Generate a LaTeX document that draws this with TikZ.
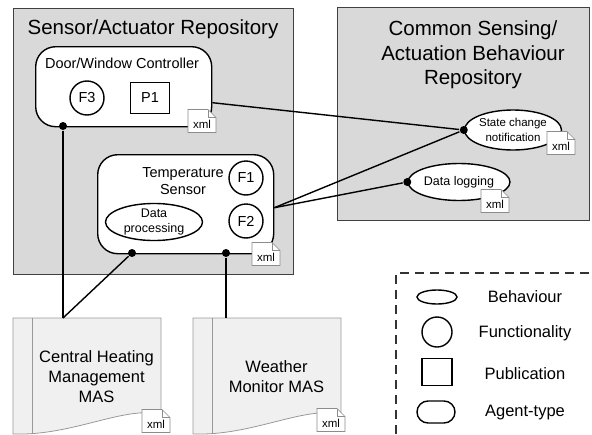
\documentclass[tikz,border=0pt]{standalone}
\usepackage{fontspec}
\setmainfont{Liberation Sans}
\usetikzlibrary{positioning,shapes.geometric}

\begin{document}
\begin{tikzpicture}[x=1pt, y=-1pt, line width=1.4pt,
    repo/.style = {draw=black!75, fill=black!15, inner sep=0},
    agent/.style = {draw, fill=white, rounded corners=20pt, inner sep=0},
    func/.style = {draw, circle, fill=white, minimum size=34pt, inner sep=0},
    pub/.style = {draw, rectangle, fill=white, minimum width=39pt, minimum height=31pt, inner sep=0},
    behav/.style = {draw, ellipse, fill=white, inner sep=0, align=center},
    dot/.style = {circle, fill, inner sep=0, minimum size=8pt},
    big/.style = {font=\fontsize{20.5}{24.5}\selectfont, align=center},
    mid/.style = {font=\fontsize{14.5}{17.5}\selectfont, align=center},
    small/.style = {font=\fontsize{12.5}{15}\selectfont, align=center},
    masname/.style = {font=\fontsize{16.5}{20}\selectfont, align=center},
    legend/.style = {font=\fontsize{16.5}{20}\selectfont},
    xml/.pic = {
      \draw[black!45, fill=white, line width=0.7pt] (-14,-11.5) -- (6,-11.5) -- (14,-3.5) -- (14,11.5) -- (-14,11.5) -- cycle;
      \draw[black!45, line width=0.7pt] (6,-11.5) -- (6,-3.5) -- (14,-3.5);
      \node[font=\fontsize{11.5}{13}\selectfont] at (0,3.5) {xml};
    },
    masdoc/.pic = {
      \draw[draw=black!40, fill=black!6, line width=0.8pt] (0,0) -- (148,0) -- (148,96)
        .. controls (110,88) and (60,118) .. (0,116) -- cycle;
      \draw[black!40, line width=0.8pt] (19,0) -- (19,115);
    }]
    \useasboundingbox (0,0) rectangle (592,434);

    % repositories
    \node[repo, minimum width=280pt, minimum height=266pt, anchor=north west] (sar) at (13,8) {};
    \node[big] (sartitle) at (153,29) {Sensor/Actuator Repository};
    \node[repo, minimum width=252pt, minimum height=213pt, anchor=north west] (csr) at (337,7) {};
    \node[big] (csrtitle) at (473,55) {Common Sensing/\\Actuation Behaviour\\Repository};

    % agent types
    \node[agent, minimum width=176pt, minimum height=80pt, anchor=north west] (dw) at (35,46) {};
    \node[mid] (dwtitle) at (122,63) {Door/Window Controller};
    \node[func, mid] (f3) at (87,98) {F3};
    \node[pub, mid] (p1) at (150,98) {P1};
    \pic at (202,121) {xml};

    \node[agent, minimum width=176pt, minimum height=99pt, anchor=north west] (ts) at (97,154) {};
    \node[mid] (tstitle) at (183,181) {Temperature\\Sensor};
    \node[func, mid] (f1) at (246,178) {F1};
    \node[func, mid] (f2) at (246,221) {F2};
    \node[behav, small, minimum width=97pt, minimum height=37pt] (dp) at (154,222) {Data\\processing};
    \pic at (266,254) {xml};

    % behaviours
    \node[behav, font=\fontsize{11.5}{15.5}\selectfont, minimum width=97pt, minimum height=40pt] (scn) at (513,130) {State change\\notification};
    \pic at (561,143) {xml};
    \node[behav, small, minimum width=102pt, minimum height=37pt] (dl) at (459,182) {Data logging};
    \pic at (495,201) {xml};

    % MAS documents
    \pic at (13,318) {masdoc};
    \node[masname] (chm) at (96.5,377) {Central Heating\\Management\\MAS};
    \coordinate (chmtop) at (63,318);
    \pic at (156,421) {xml};
    \pic at (193,318) {masdoc};
    \node[masname] (wm) at (276.5,377) {Weather\\Monitor MAS};
    \coordinate (wmtop) at (226,318);
    \pic at (331,420) {xml};

    % links
    \node[dot] (dwdot) at (63,126) {};
    \node[dot] (tsdot1) at (132,253) {};
    \node[dot] (tsdot2) at (226,253) {};
    \node[dot] (scndot) at (scn.west) {};
    \node[dot] (dldot) at (dl.west) {};
    \draw (dwdot) -- (chmtop);
    \draw (tsdot1) -- (chmtop);
    \draw (tsdot2) -- (wmtop);
    \draw ([yshift=-16pt]dw.east) -- (scndot);
    \draw ([yshift=-3.5pt]ts.east) -- (scndot);
    \draw ([yshift=-3.5pt]ts.east) -- (dldot);

    % legend
    \draw[black!80, dash pattern=on 9pt off 6pt] (396,434) |- (592,273);
    \node[behav, minimum width=40pt, minimum height=14pt] (lbehav) at (437,297) {};
    \node[legend] (tbehav) at (525,297) {Behaviour};
    \node[func, minimum size=30pt] (lfunc) at (437,332) {};
    \node[legend] (tfunc) at (525,333) {Functionality};
    \node[pub, minimum width=30pt, minimum height=27pt] (lpub) at (437,372) {};
    \node[legend] (tpub) at (525,374) {Publication};
    \node[draw, fill=white, rounded corners=11pt, minimum width=38pt, minimum height=22pt] (lagent) at (436,412) {};
    \node[legend] (tagent) at (525,413) {Agent-type};
\end{tikzpicture}
\end{document}
